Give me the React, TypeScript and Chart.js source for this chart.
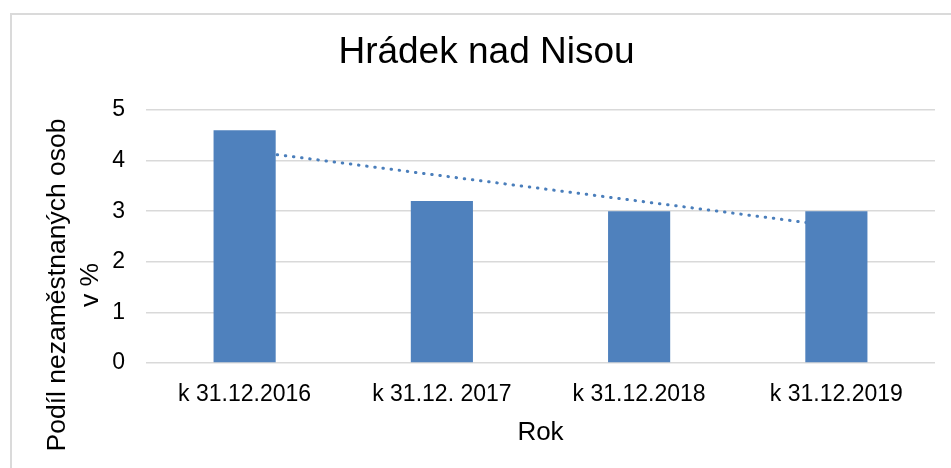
import React, { useEffect, useRef } from "react";
import { Chart, registerables } from "chart.js";

Chart.register(...registerables);

const categories = ["k 31.12.2016", "k 31.12. 2017", "k 31.12.2018", "k 31.12.2019"];
const shareValues = [4.6, 3.2, 3.0, 3.0];
const trendValues = [4.2, 3.7, 3.2, 2.7];
const yTicks = [0, 1, 2, 3, 4, 5];
const chartTitle = "Hrádek nad Nisou";
const yTitleLines = ["Podíl nezaměstnaných osob", "v %"];
const xTitle = "Rok";

const FONT = "'Liberation Sans', Arial, sans-serif";

const textPlugin = {
  id: "customTexts",
  afterDraw(chart: any) {
    const ctx = chart.ctx as CanvasRenderingContext2D;
    ctx.save();
    ctx.fillStyle = "#000";
    ctx.textAlign = "center";
    ctx.textBaseline = "middle";
    ctx.font = `37px ${FONT}`;
    ctx.fillText(chartTitle, 486.5, 53);
    ctx.translate(0, 285);
    ctx.rotate(-Math.PI / 2);
    ctx.font = `26.5px ${FONT}`;
    ctx.fillText(yTitleLines[0], 0, 58);
    ctx.fillText(yTitleLines[1], 0, 91);
    ctx.restore();
  },
};

export default function App() {
  const ref = useRef<HTMLCanvasElement>(null);
  useEffect(() => {
    if (!ref.current) return;
    const chart = new Chart(ref.current, {
      type: "bar",
      data: {
        labels: categories,
        datasets: [
          {
            type: "bar",
            data: shareValues,
            backgroundColor: "#4f81bd",
            borderWidth: 0,
            barPercentage: 0.315,
            categoryPercentage: 1,
            order: 1,
          },
          {
            type: "line",
            data: trendValues,
            borderColor: "#4a7ebb",
            borderWidth: 3,
            borderDash: [0.5, 7.7],
            borderCapStyle: "round",
            pointRadius: 0,
            fill: false,
            tension: 0,
            order: 2,
          } as any,
        ],
      },
      options: {
        responsive: false,
        animation: false,
        devicePixelRatio: 1,
        layout: { padding: { top: 110, right: 16, left: 0, bottom: 0 } },
        plugins: {
          legend: { display: false },
          title: { display: false },
          tooltip: { enabled: false },
        },
        scales: {
          x: {
            grid: { display: false },
            border: { display: false },
            ticks: {
              color: "#000",
              font: { family: FONT, size: 23 },
              padding: 10,
              maxRotation: 0,
              autoSkip: false,
            },
            title: {
              display: true,
              text: xTitle,
              color: "#000",
              font: { family: FONT, size: 26 },
              padding: { top: 0, bottom: 20 },
            },
            afterFit(scale: any) {
              scale.height = 105;
            },
          },
          y: {
            min: 0,
            max: 5,
            afterBuildTicks(scale: any) {
              scale.ticks = yTicks.map((v) => ({ value: v }));
            },
            grid: { color: "#d9d9d9", lineWidth: 1.5, drawTicks: false },
            border: { display: false },
            ticks: {
              color: "#000",
              font: { family: FONT, size: 23 },
              padding: 21,
            },
            afterFit(scale: any) {
              scale.width = 146;
            },
          },
        },
      },
      plugins: [textPlugin],
    });
    return () => chart.destroy();
  }, []);

  return (
    <div style={{ position: "absolute", left: 0, top: 0, width: 951, height: 468, overflow: "hidden", background: "#fff" }}>
      <div
        style={{
          position: "absolute",
          left: 10,
          top: 13,
          width: 1000,
          height: 500,
          border: "2px solid #dadada",
          boxSizing: "border-box",
        }}
      />
      <canvas ref={ref} width={951} height={468} style={{ position: "absolute", left: 0, top: 0 }} />
    </div>
  );
}
